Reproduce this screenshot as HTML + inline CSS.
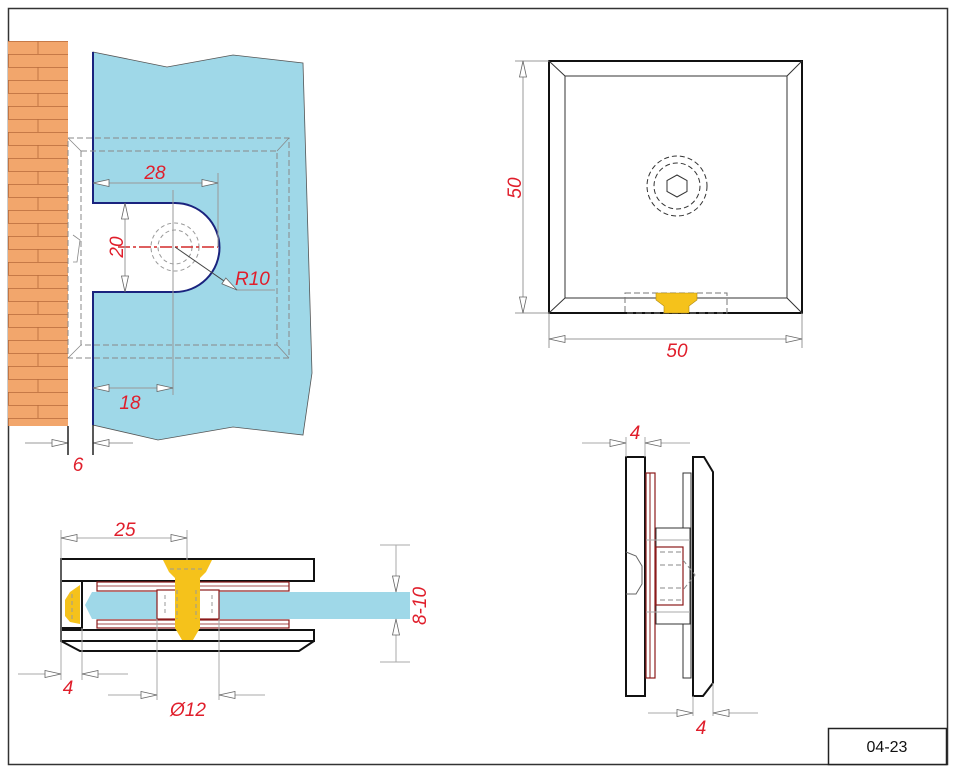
<!DOCTYPE html>
<html><head><meta charset="utf-8"><style>
html,body{margin:0;padding:0;background:#fff;}
svg{display:block;}
text{font-family:"Liberation Sans",sans-serif;font-style:italic;fill:#e01e2b;font-size:19px;}
</style></head><body>
<svg width="956" height="770" viewBox="0 0 956 770" xmlns="http://www.w3.org/2000/svg">
<defs>
<marker id="a" markerWidth="18" markerHeight="9" refX="17" refY="4.5" orient="auto-start-reverse" markerUnits="userSpaceOnUse"><path d="M1,1 L17,4.5 L1,8 Z" fill="#fff" stroke="#666" stroke-width="0.8"/></marker>
<pattern id="brick" x="8" y="41" width="60" height="26" patternUnits="userSpaceOnUse">
<rect width="60" height="26" fill="#f2a66c"/>
<path d="M0,0.5H60M0,13.5H60M30,0V13M0.5,13V26" stroke="#b86a3a" stroke-width="0.8"/>
</pattern>
</defs>
<rect x="8.5" y="8.5" width="939" height="756" fill="none" stroke="#333" stroke-width="1.5"/>
<rect x="828.5" y="728.5" width="118" height="36" fill="#fff" stroke="#222" stroke-width="1.5"/>
<text x="887" y="752" text-anchor="middle" style="font-style:normal;fill:#111;font-size:16px">04-23</text>

<rect x="8" y="41" width="60" height="385" fill="url(#brick)"/>
<path d="M93,52 L167,67 L233,55 L303,63 L312,373 L303,435 L233,427 L158,440 L93,425 L93,292 L175,292 A44.5,44.5 0 0 0 175,203 L93,203 Z" fill="#9fd8e8" stroke="#555" stroke-width="0.8"/>
<path d="M93,52V203H175A44.5,44.5 0 0 1 175,292H93V425" fill="none" stroke="#1a237e" stroke-width="2"/>
<g fill="none" stroke="#888" stroke-width="1" stroke-dasharray="6,3">
<rect x="68" y="138" width="221" height="220"/>
<rect x="81" y="151" width="196" height="194"/>
</g>
<path d="M68,138L81,151M289,138L277,151M68,358L81,345M289,358L277,345M73,235L80,240L77,262L73,262" fill="none" stroke="#888" stroke-width="0.8"/>
<g fill="none" stroke="#999" stroke-dasharray="4,3"><circle cx="175" cy="247" r="24"/><circle cx="175" cy="247" r="17"/></g>
<path d="M118,247H218" stroke="#d42a2a" stroke-width="1.5" stroke-dasharray="12,3,3,3"/>
<g stroke="#999" stroke-width="1" fill="none">
<path d="M218,173V247M173,190V395M237,290H275"/>
<path d="M93,183H218" marker-start="url(#a)" marker-end="url(#a)"/>
<path d="M125,203V292" marker-start="url(#a)" marker-end="url(#a)"/>
<path d="M93,388H173" marker-start="url(#a)" marker-end="url(#a)"/>
<path d="M175,247L237,290" stroke="#444" marker-end="url(#a)"/>
<path d="M25,443H68" marker-end="url(#a)"/>
<path d="M133,443H93" marker-end="url(#a)"/>
</g>
<path d="M68,426V455M93,425V455" stroke="#222" stroke-width="1.5"/>
<text x="155" y="179" text-anchor="middle">28</text>
<text transform="translate(123,247) rotate(-90)" text-anchor="middle">20</text>
<text x="235" y="285">R10</text>
<text x="130" y="409" text-anchor="middle">18</text>
<text x="78" y="471" text-anchor="middle">6</text>

<rect x="549" y="61" width="253" height="252" fill="#fff" stroke="#111" stroke-width="2"/>
<rect x="565" y="76" width="222" height="222" fill="none" stroke="#333" stroke-width="1"/>
<path d="M549,61L565,76M802,61L787,76M549,313L565,298M802,313L787,298" stroke="#333"/>
<g fill="none" stroke="#333" stroke-dasharray="5,3"><circle cx="677" cy="186" r="30"/><circle cx="677" cy="186" r="23"/></g>
<polygon points="677,175 687,180.5 687,191.5 677,197 667,191.5 667,180.5" fill="none" stroke="#333"/>
<rect x="625" y="293" width="102" height="20" fill="none" stroke="#777" stroke-dasharray="6,3"/>
<polygon points="656,293 697,293 697,300 689,306 689,313 664,313 664,306 656,300" fill="#f5c21b" stroke="#b08a10" stroke-width="0.6"/>
<g stroke="#999" fill="none">
<path d="M515,61H549M515,313H549M549,313V348M802,313V348"/>
<path d="M523,61V313" marker-start="url(#a)" marker-end="url(#a)"/>
<path d="M549,339H802" marker-start="url(#a)" marker-end="url(#a)"/>
</g>
<text transform="translate(521,188) rotate(-90)" text-anchor="middle">50</text>
<text x="677" y="357" text-anchor="middle">50</text>

<path d="M85,605L92,592H410V619H92Z" fill="#9fd8e8"/>
<rect x="61" y="559" width="253" height="22" fill="#fff" stroke="#111" stroke-width="2"/>
<rect x="61" y="581" width="21" height="47" fill="#fff" stroke="#111" stroke-width="2"/>
<rect x="61" y="630" width="253" height="11" fill="#fff" stroke="#111" stroke-width="2"/>
<path d="M61,641L80,651H299L314,641" fill="none" stroke="#111" stroke-width="2"/>
<g fill="#fff" stroke="#8b1a1a" stroke-width="1.2">
<rect x="97" y="582" width="192" height="9"/><rect x="97" y="620" width="192" height="8"/>
</g>
<path d="M97,586H289M97,624H289" stroke="#8b1a1a" stroke-width="0.8"/>
<rect x="157" y="590" width="62" height="29" fill="#fff" stroke="#8b1a1a" stroke-width="1.2"/>
<polygon points="163,560 212,560 206,572 200,578 200,628 193,640 182,640 175,628 175,578 169,572" fill="#f5c21b"/>
<polygon points="80,585 70,592 65,600 65,616 70,622 80,624" fill="#f5c21b"/>
<g stroke="#999" fill="none" stroke-dasharray="4,3"><path d="M177,590V619M196,590V619M165,595V615M212,595V615M170,569H205M72,594V620"/></g>
<g stroke="#aaa" fill="none">
<path d="M61,530V680M82,628V680M157,619V700M219,619V700M187,530V560M380,545H410M380,662H410"/>
<path d="M61,538H187" marker-start="url(#a)" marker-end="url(#a)"/>
<path d="M18,674H61" marker-end="url(#a)"/>
<path d="M128,674H82" marker-end="url(#a)"/>
<path d="M108,695H157" marker-end="url(#a)"/>
<path d="M265,695H219" marker-end="url(#a)"/>
<path d="M396,545V592" marker-end="url(#a)"/>
<path d="M396,662V619" marker-end="url(#a)"/>
</g>
<text x="125" y="536" text-anchor="middle">25</text>
<text x="68" y="694" text-anchor="middle">4</text>
<text x="188" y="716" text-anchor="middle">Ø12</text>
<text transform="translate(426,606) rotate(-90)" text-anchor="middle">8-10</text>

<rect x="626" y="457" width="19" height="239" fill="#fff" stroke="#111" stroke-width="2"/>
<rect x="646" y="473" width="9" height="205" fill="#fff" stroke="#8b1a1a" stroke-width="1.2"/>
<path d="M650,473V678" stroke="#8b1a1a"/>
<rect x="683" y="473" width="8" height="205" fill="#fff" stroke="#333" stroke-width="1"/>
<polygon points="693,457 704,457 713,472 713,683 703,696 693,696" fill="#fff" stroke="#111" stroke-width="2"/>
<rect x="656" y="528" width="34" height="96" fill="#fff" stroke="#333"/>
<rect x="656" y="547" width="27" height="58" fill="none" stroke="#8b1a1a" stroke-width="1.2"/>
<g stroke="#888" fill="none" stroke-dasharray="5,3"><path d="M660,552H683M660,565H683M660,588H683M660,600H683M683,560L695,575L683,590"/></g>
<path d="M626,552L636,556L642,566V584L636,594L626,594" fill="none" stroke="#666"/>
<path d="M646,540H690M646,612H690" stroke="#aaa"/>
<g stroke="#aaa" fill="none">
<path d="M626,437V457M645,437V457M693,696V716M713,683V716"/>
<path d="M582,443H626" marker-end="url(#a)"/>
<path d="M690,443H645" marker-end="url(#a)"/>
<path d="M648,713H693" marker-end="url(#a)"/>
<path d="M758,713H713" marker-end="url(#a)"/>
</g>
<text x="635" y="439" text-anchor="middle">4</text>
<text x="701" y="734" text-anchor="middle">4</text>
</svg>
</body></html>
